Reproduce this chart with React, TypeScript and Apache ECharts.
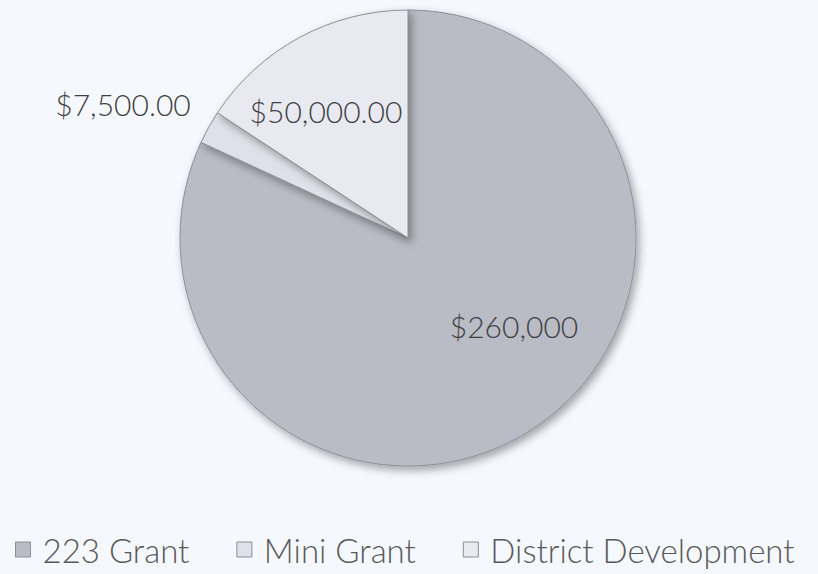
import React, { useEffect, useRef } from "react";
import * as echarts from "echarts";

const categories = ["223 Grant", "Mini Grant", "District Development"];
const values = [260000, 7500, 50000];
const labelTexts = ["$260,000", "$7,500.00", "$50,000.00"];
const colors = ["#b9bbc5", "#dfe1ea", "#e9eaf1"];

export default function App() {
  const ref = useRef<HTMLDivElement>(null);
  useEffect(() => {
    if (!ref.current) return;
    const chart = echarts.init(ref.current, null, { renderer: "svg" });
    const labelPos = [
      { x: 514, y: 326 },
      { x: 123, y: 104 },
      { x: 326, y: 111 },
    ];
    const font = "Lato";
    chart.setOption({
      animation: false,
      backgroundColor: "#f5f8fe",
      textStyle: { fontFamily: font },
      legend: {
        top: 533,
        left: 15,
        padding: 0,
        itemWidth: 15,
        itemHeight: 15,
        itemGap: 47,
        icon: "rect",
        itemStyle: { borderColor: "#8c8e98", borderWidth: 1 },
        textStyle: {
          fontSize: 33,
          color: "#595959",
          fontFamily: font,
          fontWeight: 300,
          padding: [0, 0, 0, 7],
        },
        data: categories,
      },
      series: [
        {
          type: "pie",
          center: [408, 238],
          radius: 228,
          startAngle: 90,
          clockwise: true,
          avoidLabelOverlap: false,
          itemStyle: {
            borderColor: "#8c8e98",
            borderWidth: 1,
            shadowBlur: 8,
            shadowOffsetX: 3,
            shadowOffsetY: 4,
            shadowColor: "rgba(0,0,0,0.35)",
          },
          label: {
            show: true,
            position: "inside",
            fontSize: 30,
            color: "#404040",
            fontFamily: font,
            fontWeight: 300,
            formatter: (p: any) => labelTexts[p.dataIndex],
          },
          labelLine: { show: false },
          labelLayout: (p: any) => ({
            x: labelPos[p.dataIndex].x,
            y: labelPos[p.dataIndex].y,
            align: "center",
            verticalAlign: "middle",
          }),
          data: categories.map((c, i) => ({
            name: c,
            value: values[i],
            itemStyle: { color: colors[i] },
          })),
        },
      ],
    });
    return () => chart.dispose();
  }, []);
  return (
    <div
      ref={ref}
      style={{ position: "fixed", left: 0, top: 0, width: 818, height: 574 }}
    />
  );
}
